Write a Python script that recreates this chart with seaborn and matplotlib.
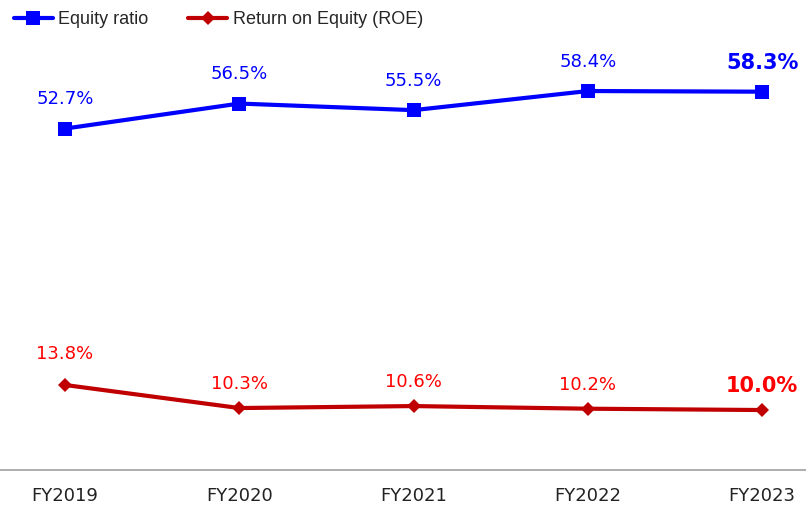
import numpy as np
import pandas as pd
import matplotlib
matplotlib.use("Agg")
import matplotlib.pyplot as plt
import seaborn as sns

years = ["FY2019", "FY2020", "FY2021", "FY2022", "FY2023"]
equity_ratio = [52.7, 56.5, 55.5, 58.4, 58.3]
roe = [13.8, 10.3, 10.6, 10.2, 10.0]

sns.set_style("white")
plt.rcParams['font.family'] = ['DejaVu Sans']

fig = plt.figure(figsize=(8.06, 5.12), dpi=100)
ax = fig.add_axes([0, 42 / 512, 1, 440 / 512])

x = np.arange(len(years))
df = pd.DataFrame({"x": x, "Equity ratio": equity_ratio, "Return on Equity (ROE)": roe})

sns.lineplot(data=df, x="x", y="Equity ratio", ax=ax, color="#0000FF", linewidth=3,
             marker="s", markersize=9.5, markeredgewidth=0, label="Equity ratio")
sns.lineplot(data=df, x="x", y="Return on Equity (ROE)", ax=ax, color="#C00000", linewidth=3,
             marker="D", markersize=7.5, markeredgewidth=0, label="Return on Equity (ROE)")

# data labels, last one bold
for i, v in enumerate(equity_ratio):
    last = i == len(years) - 1
    ax.annotate(f"{v:.1f}%", (x[i], v), xytext=(0, 21), textcoords="offset points",
                ha="center", va="center", color="#0000FF",
                fontsize=15 if last else 13, fontweight="bold" if last else "normal")
for i, v in enumerate(roe):
    last = i == len(years) - 1
    dy = 22 if i == 0 else 17
    ax.annotate(f"{v:.1f}%", (x[i], v), xytext=(0, dy), textcoords="offset points",
                ha="center", va="center", color="#FF0000",
                fontsize=15 if last else 13, fontweight="bold" if last else "normal")

ax.set_xlim(-65 / 174.3, (806 - 65) / 174.3)
ax.set_ylim(0.9, 67.66)
ax.set_xticks(x)
ax.set_xticklabels(years, fontsize=13, color="#222222")
ax.set_yticks([])
ax.set_xlabel("")
ax.set_ylabel("")
ax.tick_params(axis="x", length=0, pad=12)
for s in ["top", "left", "right"]:
    ax.spines[s].set_visible(False)
ax.spines["bottom"].set_color("#a0a0a0")
ax.spines["bottom"].set_linewidth(1.2)

ax.legend_.remove()
handles, labels = ax.get_legend_handles_labels()
fig.legend(handles, labels, loc="upper left", bbox_to_anchor=(0.004, 1.0), ncol=2, frameon=False,
           prop={"family": "Liberation Sans", "size": 13}, handlelength=2.15, handletextpad=0.3,
           columnspacing=2.2, borderaxespad=0.3, borderpad=0.3)

fig.savefig("out.png", dpi=100)
